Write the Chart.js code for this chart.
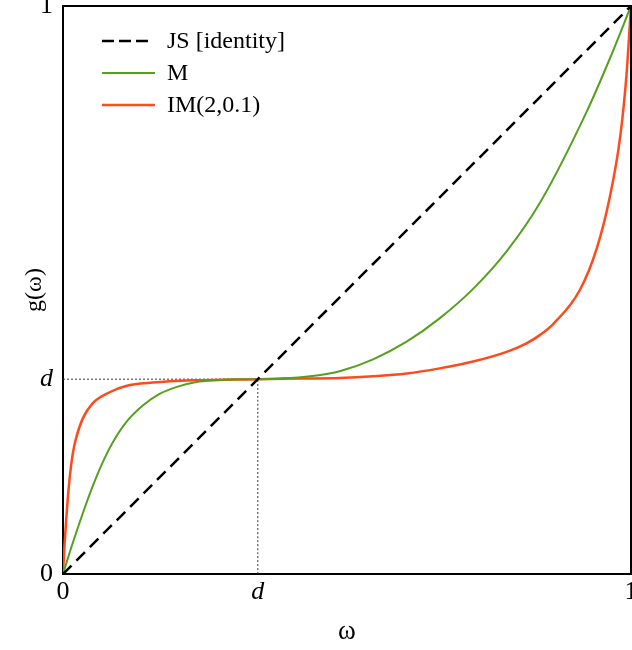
<!DOCTYPE html>
<html>
<head>
<meta charset="utf-8">
<script src="https://cdn.jsdelivr.net/npm/chart.js@4/dist/chart.umd.min.js"></script>
<style>
  html, body { margin: 0; padding: 0; background: #fff; }
  #wrap { width: 632px; height: 650px; position: relative; }
</style>
</head>
<body>
<div id="wrap"><canvas id="myViz"></canvas></div>
<script>
// Value of d on both axes
const d = 0.343;

// Tick positions and labels
const tickValues = [0, d, 1];
const tickLabels = ['0', 'd', '1'];

// JS [identity]
const jsX = [0, 1];
const jsY = [0, 1];

// M
const mX = [0, 0.0173, 0.0349, 0.0525, 0.0701, 0.0878, 0.111, 0.141, 0.170, 0.199, 0.235, 0.27, 0.31,
  0.343, 0.40, 0.45, 0.487, 0.546, 0.605, 0.663, 0.722, 0.781, 0.840, 0.922, 0.963, 1];
const mY = [0, 0.055, 0.107, 0.155, 0.197, 0.232, 0.267, 0.297, 0.317, 0.329, 0.338, 0.341, 0.3427,
  0.343, 0.345, 0.350, 0.357, 0.378, 0.409, 0.450, 0.502, 0.568, 0.654, 0.814, 0.908, 1];

// IM(2,0.1)
const imX = [0, 0.0026, 0.0056, 0.0102, 0.0144, 0.0176, 0.0233, 0.0349, 0.0525, 0.0819, 0.111, 0.158, 0.229,
  0.343, 0.42, 0.487, 0.546, 0.605, 0.663, 0.722, 0.781, 0.816, 0.840, 0.863, 0.910, 0.940, 0.963, 0.981, 0.992, 1];
const imY = [0, 0.05, 0.095, 0.154, 0.192, 0.214, 0.240, 0.274, 0.301, 0.320, 0.331, 0.337, 0.341,
  0.343, 0.344, 0.345, 0.348, 0.353, 0.362, 0.374, 0.391, 0.406, 0.421, 0.440, 0.500, 0.574, 0.665, 0.770, 0.878, 1];

// Dotted guide lines to (d, d)
const guideHX = [0, d], guideHY = [d, d];
const guideVX = [d, d], guideVY = [0, d];

const FONT = '"Liberation Serif", "Times New Roman", serif';
const GREEN = '#55a01e';
const RED = '#ff4a1c';

const toPoints = (xs, ys) => xs.map((x, i) => ({ x: x, y: ys[i] }));

const lineSet = (label, xs, ys, color, width, dash) => ({
  label: label,
  data: toPoints(xs, ys),
  showLine: true,
  borderColor: color,
  borderWidth: width,
  borderDash: dash,
  pointRadius: 0,
  fill: false,
  cubicInterpolationMode: 'monotone',
});

// Legend drawn inside the plot, top left
const innerLegend = {
  id: 'innerLegend',
  afterDatasetsDraw(chart) {
    const c = chart.ctx;
    const rows = chart.data.datasets.filter(ds => ds.label);
    const rowY = [42, 74, 106];
    c.save();
    c.font = '24px ' + FONT;
    c.textBaseline = 'middle';
    c.fillStyle = '#000';
    rows.forEach((ds, i) => {
      const y = rowY[i];
      const dashed = ds.borderDash && ds.borderDash.length;
      c.strokeStyle = ds.borderColor;
      c.lineWidth = ds.borderWidth;
      c.setLineDash(dashed ? [12, 5] : []);
      c.beginPath();
      c.moveTo(102, y - 1);
      c.lineTo(dashed ? 148 : 155, y - 1);
      c.stroke();
      c.fillText(ds.label, 167, y);
    });
    c.restore();
  }
};

// Top and right edges of the frame
const frame = {
  id: 'frame',
  afterDraw(chart) {
    const a = chart.chartArea;
    const c = chart.ctx;
    c.save();
    c.strokeStyle = '#000';
    c.lineWidth = 2;
    c.beginPath();
    c.moveTo(a.left, a.top);
    c.lineTo(a.right, a.top);
    c.lineTo(a.right, a.bottom);
    c.stroke();
    c.restore();
  }
};

const tickFont = (ctx) => ({
  family: FONT,
  size: 26,
  style: ctx.tick && ctx.tick.value === d ? 'italic' : 'normal',
});

const setTicks = (scale) => {
  scale.ticks = tickValues.map(v => ({ value: v }));
};

new Chart(document.getElementById('myViz'), {
  type: 'scatter',
  data: {
    datasets: [
      lineSet('JS [identity]', jsX, jsY, '#000', 2.5, [12, 7]),
      lineSet('M', mX, mY, GREEN, 2, []),
      lineSet('IM(2,0.1)', imX, imY, RED, 2.5, []),
      lineSet('', guideHX, guideHY, '#333', 1, [2, 2]),
      lineSet('', guideVX, guideVY, '#333', 1, [2, 2]),
    ]
  },
  options: {
    responsive: true,
    maintainAspectRatio: false,
    animation: false,
    layout: { padding: { top: 6, right: 1, left: 0, bottom: 0 } },
    plugins: {
      legend: { display: false },
      tooltip: { enabled: false },
    },
    scales: {
      x: {
        type: 'linear',
        min: 0,
        max: 1,
        afterBuildTicks: setTicks,
        afterFit: (s) => { s.height = 76; s.paddingLeft = 0; s.paddingRight = 0; },
        grid: { display: false, drawTicks: false },
        border: { display: true, color: '#000', width: 2 },
        ticks: {
          padding: 3,
          color: '#000',
          maxRotation: 0,
          autoSkip: false,
          font: tickFont,
          callback: (v) => tickLabels[tickValues.indexOf(v)],
        },
        title: {
          display: true,
          text: 'ω',
          color: '#000',
          font: { family: FONT, size: 27 },
          padding: { top: 0, bottom: 2 },
        },
      },
      y: {
        type: 'linear',
        min: 0,
        max: 1,
        afterBuildTicks: setTicks,
        afterFit: (s) => { s.width = 63; s.paddingTop = 0; s.paddingBottom = 0; },
        grid: { display: false, drawTicks: false },
        border: { display: true, color: '#000', width: 2 },
        ticks: {
          padding: 10,
          color: '#000',
          autoSkip: false,
          font: tickFont,
          callback: (v) => tickLabels[tickValues.indexOf(v)],
        },
        title: {
          display: true,
          text: 'g(ω)',
          color: '#000',
          font: { family: FONT, size: 24 },
          padding: { top: 20, bottom: 0 },
        },
      },
    },
  },
  plugins: [innerLegend, frame],
});
</script>
</body>
</html>
